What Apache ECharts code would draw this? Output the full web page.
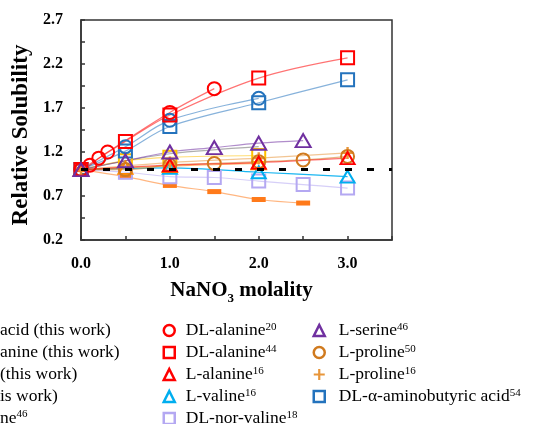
<!DOCTYPE html>
<html><head><meta charset="utf-8">
<script src="https://cdn.jsdelivr.net/npm/echarts@6/dist/echarts.min.js"></script>
<style>html,body{margin:0;padding:0;background:#fff}#c{width:537px;height:424px}</style>
</head><body><div id="c"></div>
<script>
// NaNO3 molality (x) and relative solubility (y) for each series
const dlAla20_x = [0, 0.1, 0.2, 0.3, 1.0, 1.5];
const dlAla20_y = [1.0, 1.05, 1.13, 1.2, 1.65, 1.92];
const dlAla44_x = [0, 0.5, 1.0, 2.0, 3.0];
const dlAla44_y = [1.0, 1.32, 1.62, 2.04, 2.27];
const lAla16_x = [0, 1.0, 2.0, 3.0];
const lAla16_y = [1.0, 1.05, 1.08, 1.13];
const lVal16_x = [0, 1.0, 2.0, 3.0];
const lVal16_y = [1.0, 1.02, 0.97, 0.92];
const dlNorVal18_x = [0, 0.5, 1.0, 1.5, 2.0, 2.5, 3.0];
const dlNorVal18_y = [1.0, 0.97, 0.92, 0.91, 0.87, 0.83, 0.79];
const lSer46_x = [0, 0.5, 1.0, 1.5, 2.0, 2.5];
const lSer46_y = [1.0, 1.1, 1.2, 1.25, 1.3, 1.33];
const lPro50_x = [0, 0.5, 1.0, 1.5, 2.0, 2.5, 3.0];
const lPro50_y = [1.0, 1.0, 1.05, 1.07, 1.09, 1.11, 1.15];
const lPro16_x = [0, 1.0, 2.0, 3.0];
const lPro16_y = [1.0, 1.08, 1.13, 1.19];
const dlAbu54_x = [0, 0.5, 1.0, 2.0, 3.0];
const dlAbu54_y = [1.0, 1.21, 1.49, 1.76, 2.02];
// "this work" series (legend entries cut off at the left edge)
const abuThis_x = [0, 0.5, 1.0, 2.0];
const abuThis_y = [1.0, 1.26, 1.56, 1.81];
const goldThis_x = [0, 0.5, 1.0, 2.0];
const goldThis_y = [1.0, 1.1, 1.14, 1.16];
const orTriThis_x = [0, 0.5, 1.0, 2.0];
const orTriThis_y = [1.0, 1.02, 1.04, 1.07];
const dashThis_x = [0, 0.5, 1.0, 1.5, 2.0, 2.5];
const dashThis_y = [1.0, 0.92, 0.82, 0.75, 0.66, 0.62];
const grayThis_x = [0, 0.5, 1.0, 2.0];
const grayThis_y = [1.0, 1.1, 1.18, 1.26];
// reference line (relative solubility = 1)
const ref_x = [0, 3.5];
const ref_y = [1.0, 1.0];
// tick labels
const yTickLabels = ['0.2', '0.7', '1.2', '1.7', '2.2', '2.7'];
const xTickLabels = ['0.0', '1.0', '2.0', '3.0'];
// cut-off legend fragments at the left
const leftLegendTexts = ['acid (this work)', 'anine (this work)', '(this work)', 'is work)', 'ne{sup|46}'];

const SERIF = '"Liberation Serif", "Times New Roman", serif';
const pair = (xs, ys) => xs.map((x, i) => [x, ys[i]]);
const PLUS = 'path://M4,0H6V4H10V6H6V10H4V6H0V4H4Z';

function mk(name, xs, ys, o) {
  const hollow = o.fill === undefined;
  return {
    name, type: 'line', yAxisIndex: 0, data: pair(xs, ys),
    smooth: 0.35, symbol: o.symbol || 'none', symbolSize: o.size || 13,
    itemStyle: hollow ? { color: 'rgba(0,0,0,0)', borderColor: o.c, borderWidth: 2 }
                      : { color: o.fill, borderWidth: 0 },
    lineStyle: { color: o.lc || o.c, width: 1.2, opacity: o.lo || 0.55 },
    emphasis: { disabled: true }, z: o.z || 2
  };
}

const series = [
  mk('gray (this work)', grayThis_x, grayThis_y, { c: '#9a9a9a', lo: 0.8 }),
  mk('gold (this work)', goldThis_x, goldThis_y, { c: '#FFC000', symbol: 'rect', size: 13 }),
  mk('dash (this work)', dashThis_x, dashThis_y, { c: '#FF7A1A', fill: '#FF7A1A', symbol: 'rect', size: [14, 5] }),
  mk('DL-nor-valine18', dlNorVal18_x, dlNorVal18_y, { c: '#B4A8F2', symbol: 'rect', size: 13 }),
  mk('L-valine16', lVal16_x, lVal16_y, { c: '#00AEEF', symbol: 'triangle', size: [14, 12], lo: 0.9 }),
  mk('tri (this work)', orTriThis_x, orTriThis_y, { c: '#FF8A00', symbol: 'triangle', size: [14, 12] }),
  mk('L-proline16', lPro16_x, lPro16_y, { c: '#E8963A', fill: '#E8963A', symbol: PLUS, size: 12 }),
  mk('L-proline50', lPro50_x, lPro50_y, { c: '#D07A1E', symbol: 'circle', size: 13 }),
  mk('L-alanine16', lAla16_x, lAla16_y, { c: '#FF0000', symbol: 'triangle', size: [14, 12] }),
  mk('acid (this work)', abuThis_x, abuThis_y, { c: '#2473BD', symbol: 'circle', size: 13 }),
  mk('DL-α-aminobutyric acid54', dlAbu54_x, dlAbu54_y, { c: '#2473BD', symbol: 'rect', size: 13 }),
  mk('DL-alanine20', dlAla20_x, dlAla20_y, { c: '#FF0000', symbol: 'circle', size: 13 }),
  mk('DL-alanine44', dlAla44_x, dlAla44_y, { c: '#FF0000', symbol: 'rect', size: 13 }),
  mk('L-serine46', lSer46_x, lSer46_y, { c: '#7030A0', symbol: 'triangle', size: [15, 13] }),
  {
    name: 'ref', type: 'line', yAxisIndex: 0, data: pair(ref_x, ref_y), symbol: 'none',
    lineStyle: { color: '#000', width: 3, type: [7, 15] }, z: 10, emphasis: { disabled: true }
  }
];

const legIcon = (name, icon, c, filled) => ({
  name, icon,
  itemStyle: filled ? { color: c, borderWidth: 0 } : { color: 'rgba(0,0,0,0)', borderColor: c, borderWidth: 2.5 }
});

const legendText = (padLeft) => ({
  fontFamily: SERIF, fontSize: 17.5, color: '#000', lineHeight: 18, padding: [0, 0, 0, padLeft],
  rich: { sup: { fontFamily: SERIF, fontSize: 11, lineHeight: 11, verticalAlign: 'top', color: '#000' } }
});
const legendBase = {
  orient: 'vertical', itemWidth: 11, itemHeight: 11, itemGap: 4, top: 321.5, height: 130, padding: 0,
  selectedMode: false,
  formatter: n => n.replace(/(\d+)$/, '{sup|$1}')
};

const option = {
  animation: false,
  backgroundColor: '#fff',
  grid: { left: 81, right: 145, top: 20, bottom: 184, show: true, borderColor: '#333', borderWidth: 1.5, outerBoundsMode: 'none' },
  xAxis: {
    type: 'value', min: 0, max: 3.5, interval: 0.5,
    axisLine: { show: true, onZero: false, lineStyle: { color: '#333', width: 1.5 } },
    axisTick: { show: true, inside: true, length: 4, lineStyle: { color: '#333', width: 1.5 } },
    splitLine: { show: false },
    axisLabel: {
      margin: 16, fontFamily: SERIF, fontWeight: 'bold', fontSize: 16, color: '#000',
      formatter: v => { const k = Math.round(v * 2); return k % 2 === 0 ? (xTickLabels[k / 2] || '') : ''; }
    },
    name: 'NaNO{sub|3} molality', nameLocation: 'middle', nameGap: 40,
    nameTextStyle: {
      fontFamily: SERIF, fontWeight: 'bold', fontSize: 21, color: '#000', padding: [0, 0, 0, 10],
      rich: { sub: { fontFamily: SERIF, fontWeight: 'bold', fontSize: 13, verticalAlign: 'bottom', lineHeight: 13, padding: [0, 0, -4, 0] } }
    }
  },
  yAxis: [
    { type: 'value', min: 0.2, max: 2.7, show: false },
    {
      type: 'value', min: 0, max: 2.5, interval: 0.25, position: 'left',
      axisLine: { show: true, lineStyle: { color: '#333', width: 1.5 } },
      axisTick: { show: true, inside: true, length: 4, lineStyle: { color: '#333', width: 1.5 } },
      splitLine: { show: false },
      axisLabel: {
        margin: 18, fontFamily: SERIF, fontWeight: 'bold', fontSize: 16, color: '#000',
        formatter: v => { const k = Math.round(v * 4); return k % 2 === 0 ? (yTickLabels[k / 2] || '') : ''; }
      },
      name: 'Relative Solubility', nameLocation: 'middle', nameGap: 44,
      nameTextStyle: { fontFamily: SERIF, fontWeight: 'bold', fontSize: 23, color: '#000', padding: [0, 10, 0, 0] }
    }
  ],
  legend: [
    Object.assign({}, legendBase, {
      left: 162.5, textStyle: legendText(6),
      data: [
        legIcon('DL-alanine20', 'circle', '#FF0000'),
        legIcon('DL-alanine44', 'rect', '#FF0000'),
        legIcon('L-alanine16', 'triangle', '#FF0000'),
        legIcon('L-valine16', 'triangle', '#00AEEF'),
        legIcon('DL-nor-valine18', 'rect', '#B4A8F2')
      ]
    }),
    Object.assign({}, legendBase, {
      left: 312.5, textStyle: legendText(9),
      data: [
        legIcon('L-serine46', 'triangle', '#7030A0'),
        legIcon('L-proline50', 'circle', '#D07A1E'),
        legIcon('L-proline16', PLUS, '#E8963A', true),
        legIcon('DL-α-aminobutyric acid54', 'rect', '#2473BD')
      ]
    })
  ],
  graphic: leftLegendTexts.map((t, i) => ({
    type: 'text', left: 0, top: 321 + i * 22,
    style: {
      text: t, font: '17.5px ' + SERIF, fill: '#000',
      rich: { sup: { fontFamily: SERIF, fontSize: 11, verticalAlign: 'top', lineHeight: 11 } }
    }
  })),
  series
};

const chart = echarts.init(document.getElementById('c'), null, { renderer: 'canvas' });
chart.setOption(option);
</script>
</body></html>
